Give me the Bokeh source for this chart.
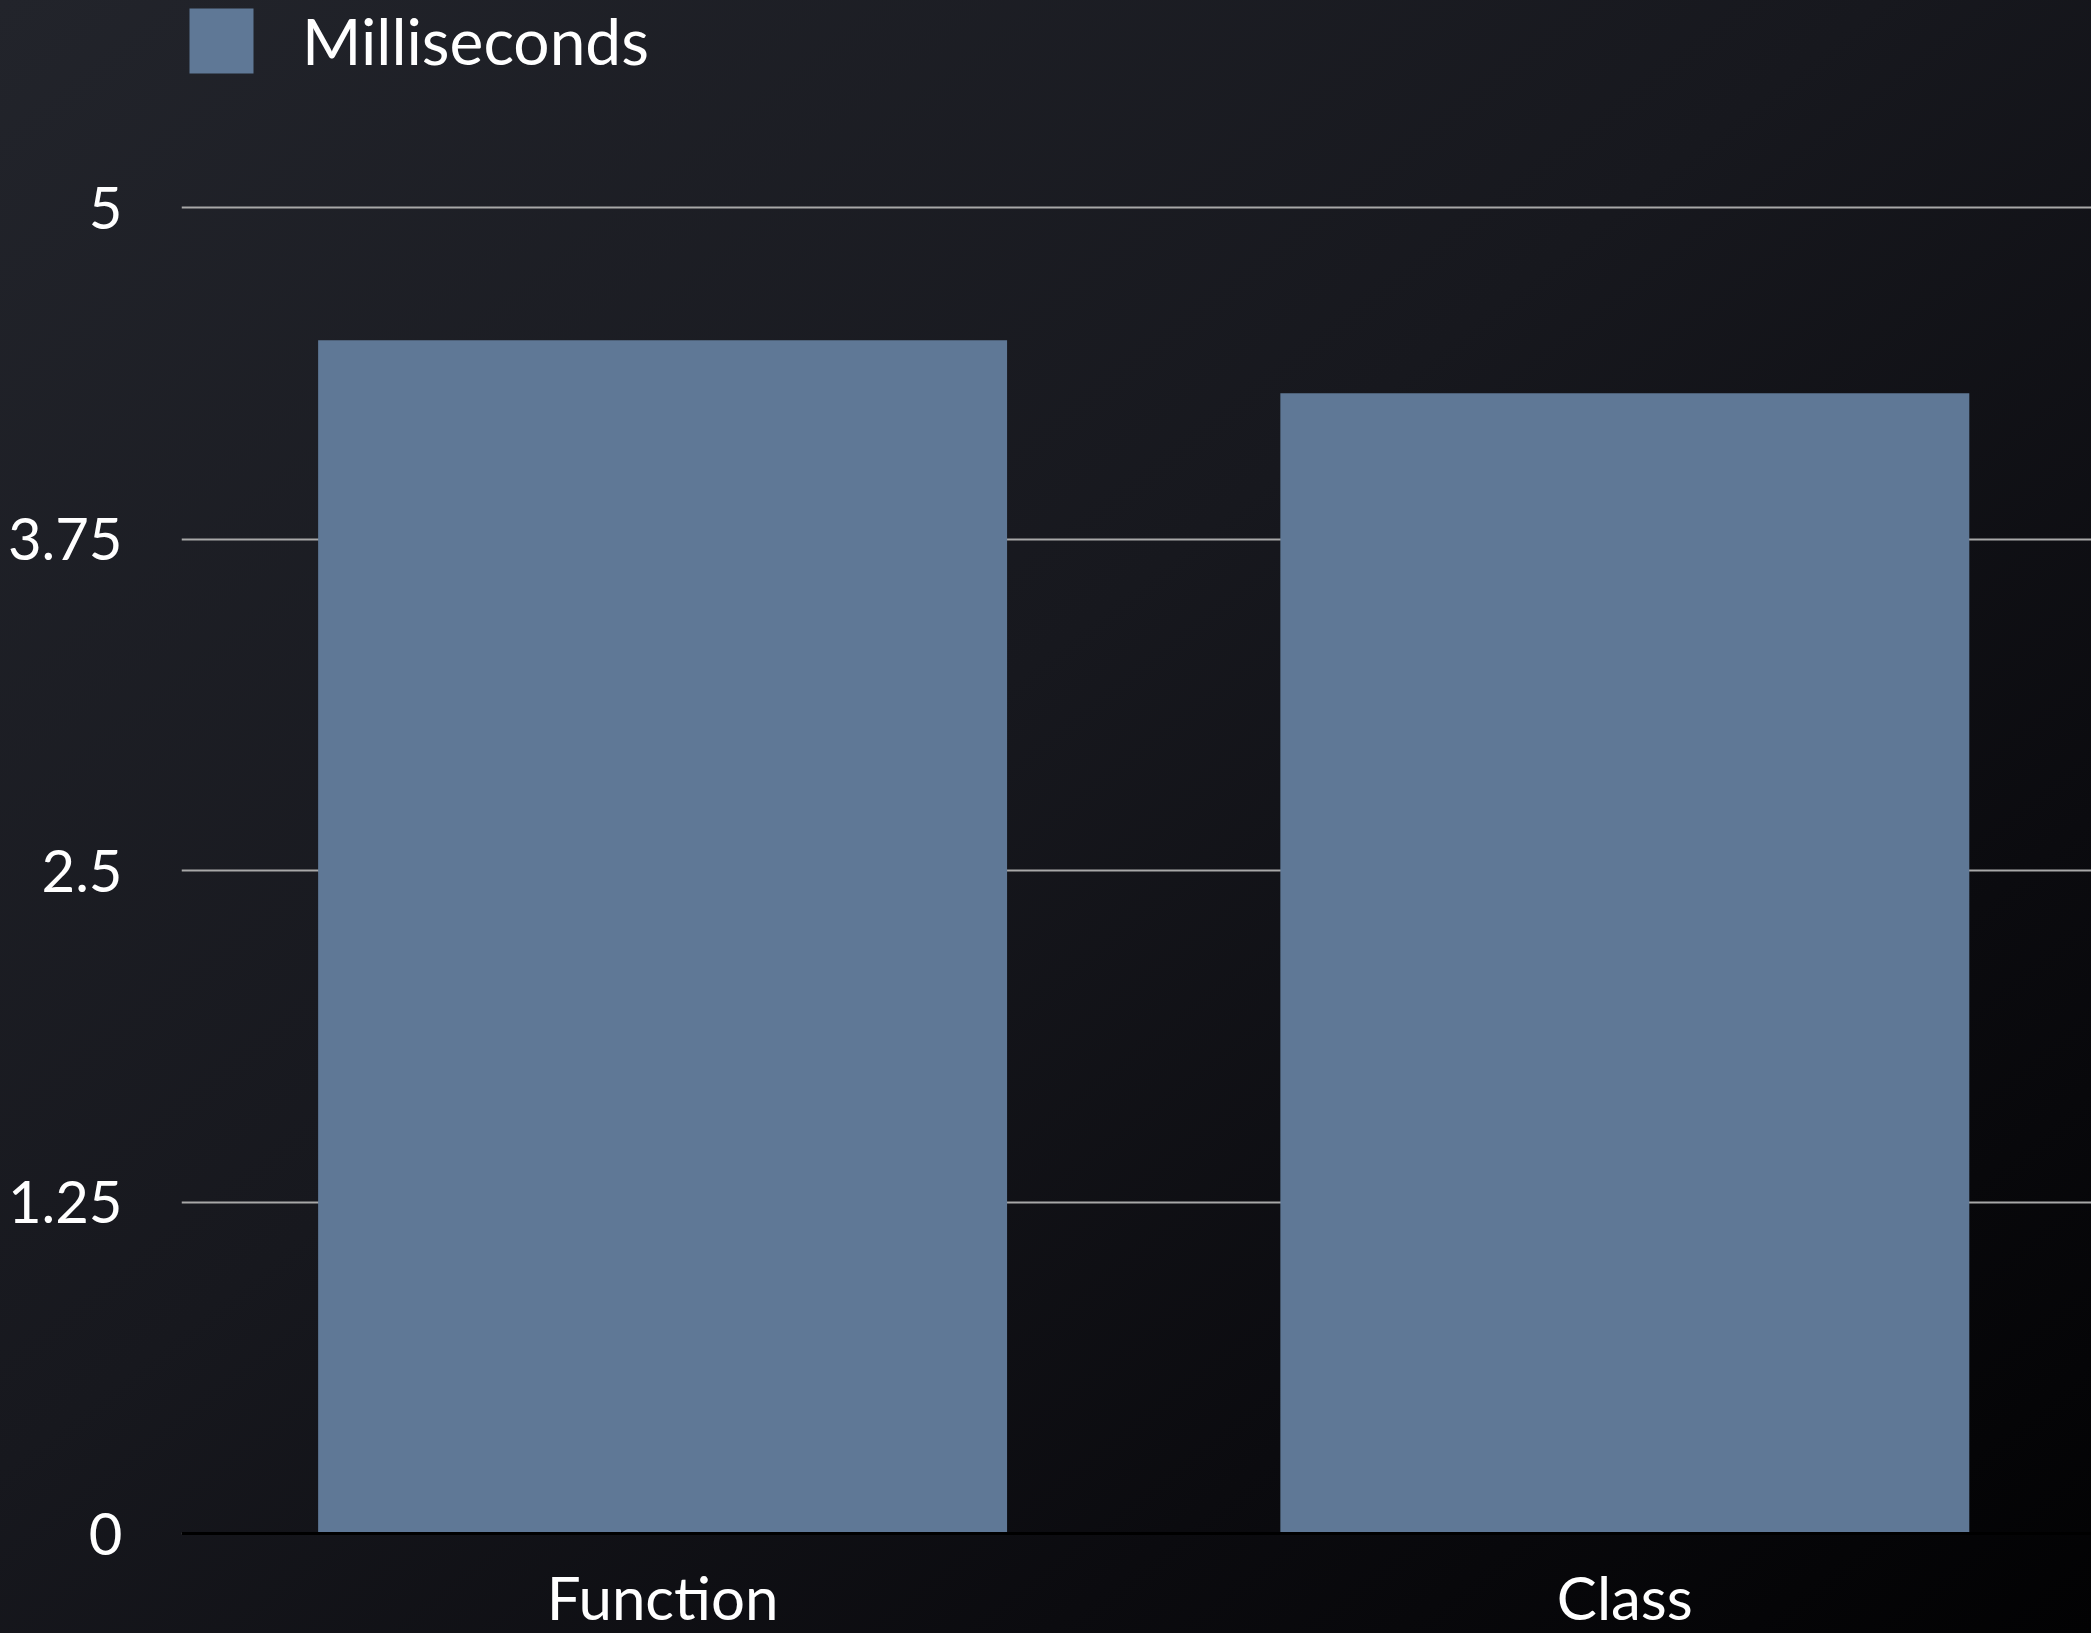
from bokeh.plotting import figure
from bokeh.models import Range1d, FixedTicker, Span, Legend, LegendItem
from bokeh.core.properties import value
from bokeh.embed import file_html
from bokeh.resources import INLINE

# Timing comparison
categories = ["Function", "Class"]
milliseconds = [4.5, 4.3]
series_name = "Milliseconds"
y_ticks = [0, 1.25, 2.5, 3.75, 5]

FONT = "Lato"
BAR_COLOR = "#5f7896"

x_pos = [i + 0.5 for i in range(len(categories))]

p = figure(
    width=2091, height=1633,
    output_backend="svg", toolbar_location=None,
    x_range=Range1d(0, 1.985),
    y_range=Range1d(-0.377, 5.781),
    x_axis_location=None,
    min_border_left=181, min_border_right=0,
    min_border_top=0, min_border_bottom=0,
    background_fill_color=None, border_fill_color=None,
    outline_line_color=None,
    styles={"background": "linear-gradient(to bottom right, #22242b 0%, #17181e 45%, #0b0b0f 75%, #020203 100%)"},
)

# horizontal grid
p.ygrid.ticker = FixedTicker(ticks=y_ticks)
p.ygrid.grid_line_color = "#a8a8a8"
p.ygrid.grid_line_width = 2
p.xgrid.grid_line_color = None

# y axis: labels only
yax = p.yaxis[0]
yax.ticker = FixedTicker(ticks=y_ticks)
yax.major_label_overrides = {(int(t) if float(t).is_integer() else t): f"{t:g}" for t in y_ticks}
yax.axis_line_color = None
yax.major_tick_line_color = None
yax.minor_tick_line_color = None
yax.major_tick_in = 0
yax.major_tick_out = 0
yax.minor_tick_in = 0
yax.minor_tick_out = 0
yax.major_label_standoff = 59
yax.major_label_text_color = "white"
yax.major_label_text_font = FONT
yax.major_label_text_font_size = "58px"

bars = p.vbar(x=x_pos, top=milliseconds, bottom=0, width=0.716,
              fill_color=BAR_COLOR, line_color=None)

# baseline
p.add_layout(Span(location=0, dimension="width", line_color="black", line_width=3))

# category labels under the bars
p.text(x=x_pos, y=[0] * len(categories), text=categories,
       text_font=value(FONT), text_font_size="60px", text_color="white",
       text_align="center", text_baseline="bottom", y_offset=99)

legend = Legend(
    items=[LegendItem(label=series_name, renderers=[bars])],
    location="top_left",
    glyph_width=80, glyph_height=81,
    label_standoff=41,
    label_text_font=FONT, label_text_font_size="64px", label_text_color="white",
    background_fill_alpha=0, border_line_color=None,
    margin=0, padding=3, spacing=0,
)
p.add_layout(legend)

open("out.html", "w").write(file_html(p, INLINE))
